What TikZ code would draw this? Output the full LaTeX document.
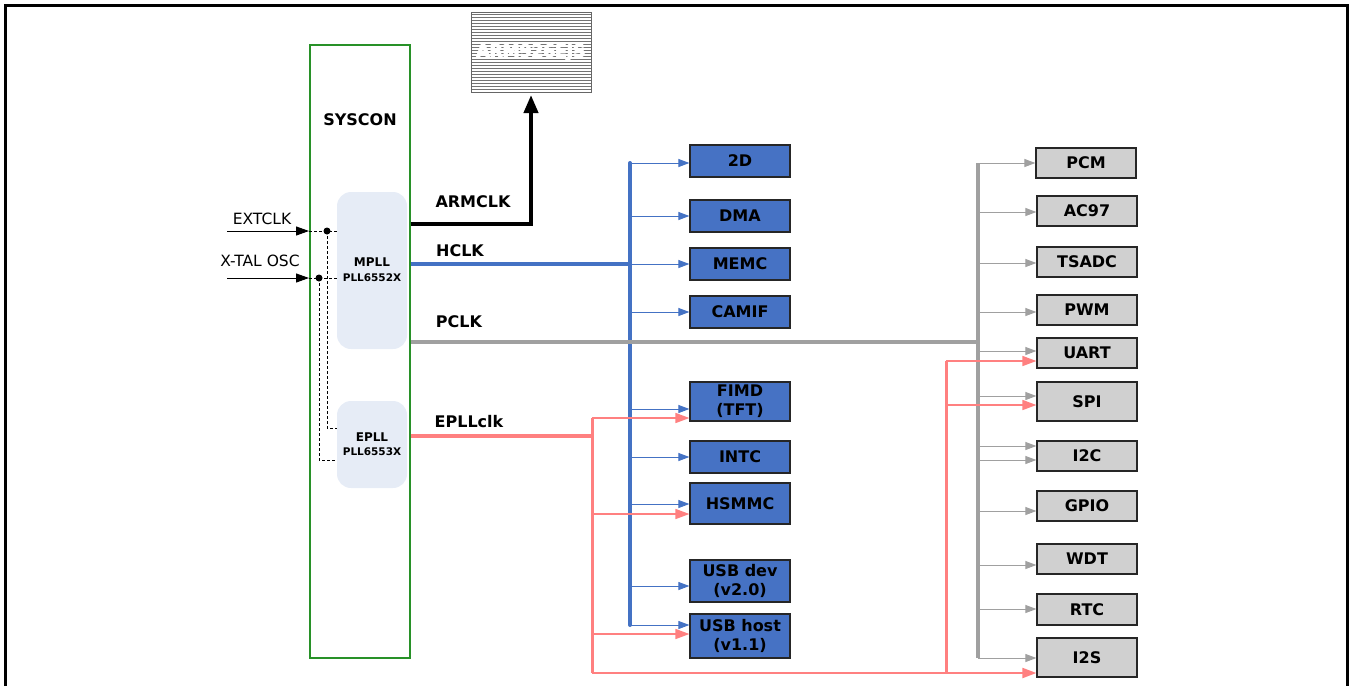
\documentclass[tikz,border=0pt]{standalone}
\usepackage{fontspec}
\setmainfont{DejaVu Sans}
\usetikzlibrary{arrows.meta,calc}
\definecolor{bfill}{RGB}{70,114,196}
\definecolor{bline}{RGB}{68,114,196}
\definecolor{gfill}{RGB}{208,208,208}
\definecolor{gline}{RGB}{160,160,160}
\definecolor{rline}{RGB}{255,128,128}
\definecolor{pllfill}{RGB}{230,236,246}
\definecolor{sysgreen}{RGB}{40,145,40}
\begin{document}
\begin{tikzpicture}[x=1pt,y=-1pt,
  bx/.style={draw=black!85, line width=1.2pt, minimum width=100pt, inner sep=0pt,
    font=\fontsize{16}{19}\selectfont\bfseries, align=center},
  bluebox/.style={bx, fill=bfill},
  graybox/.style={bx, fill=gfill},
  pllbox/.style={fill=pllfill, rounded corners=14pt, minimum width=70pt, inner sep=0pt},
  lbl/.style={font=\fontsize{16}{19}\selectfont\bfseries, inner sep=0pt},
  inlbl/.style={font=\fontsize{15.5}{18}\selectfont, inner sep=0pt},
  plltxt/.style={font=\fontsize{12}{14}\selectfont\bfseries, inner sep=0pt},
  pllsub/.style={font=\fontsize{10.5}{12}\selectfont\bfseries, inner sep=0pt},
  armtxt/.style={text=white, font=\fontsize{17}{20}\selectfont\bfseries, inner sep=0pt},
  barr/.style={draw=bline, line width=1pt, -{Triangle[length=11pt,width=8pt]}},
  garr/.style={draw=gline, line width=1pt, -{Triangle[length=11pt,width=8pt]}},
  rarr/.style={draw=rline, line width=1.5pt, -{Triangle[length=14pt,width=10pt]}},
  dsh/.style={draw=black, line width=0.8pt, dash pattern=on 3pt off 2pt},
  dotnode/.style={circle, fill=black, inner sep=0pt, minimum size=7pt},
]
\useasboundingbox (0,0) rectangle (1354,686);
% outer frame
\draw[line width=3pt] (5,686) -- (5,5) -- (1347,5) -- (1347,686);

% ARM core
\node[draw=black!60, line width=1pt, fill=white, minimum width=120pt, minimum height=80pt,
  inner sep=0pt,
  path picture={\foreach \k in {0,...,26}
    \draw[black!55, line width=1pt]
      ($(path picture bounding box.north west)+(0,1.5+3*\k)$) -- ++(130,0);}]
  (arm) at (531,52.5) {};
\foreach \dx/\dy in {-0.6/0,0.6/0,0/-0.5,0/0.5,0/0}
  \node[armtxt] at ($(arm.center)+(\dx,\dy)$) {ARM926EJS};

% SYSCON
\node[draw=sysgreen, line width=1.2pt, minimum width=100pt, minimum height=613pt, inner sep=0pt]
  (syscon) at (360,351.5) {};
\node[lbl] (sysl) at (360,120) {SYSCON};

% PLLs
\node[pllbox, minimum height=157pt] (mpll) at (372,270.5) {};
\node[plltxt] (mpllt) at (372,262) {MPLL};
\node[pllsub] (mplls) at (372,278) {PLL6552X};
\node[pllbox, minimum height=87pt] (epll) at (372,444.5) {};
\node[plltxt] (epllt) at (372,437) {EPLL};
\node[pllsub] (eplls) at (372,452) {PLL6553X};

% inputs
\coordinate (extin) at (227,231);
\coordinate (xtalin) at (227,278);
\coordinate (extend) at (309,231);
\coordinate (xtalend) at (309,278);
\node[inlbl] (extl) at (262,219) {EXTCLK};
\node[inlbl] (xtall) at (260,261) {X-TAL OSC};
\draw[line width=1pt, -{Triangle[length=13pt,width=9pt]}] (extin) -- (extend);
\draw[line width=1pt, -{Triangle[length=13pt,width=9pt]}] (xtalin) -- (xtalend);
\node[dotnode] (d1) at (327,231) {};
\node[dotnode] (d2) at (319,278) {};
\draw[dsh] (extend) -- (mpll.west |- extend);
\draw[dsh] (xtalend) -- (mpll.west |- xtalend);
\draw[dsh] (d1.center) -- (327,428) -- (epll.west |- 0,428);
\draw[dsh] (d2.center) -- (319,460) -- (epll.west |- 0,460);

% peripheral boxes (AHB)
\node[bluebox, minimum height=32pt] (b2d) at (740,161) {2D};
\node[bluebox, minimum height=32pt] (bdma) at (740,216) {DMA};
\node[bluebox, minimum height=32pt] (bmemc) at (740,264) {MEMC};
\node[bluebox, minimum height=32pt] (bcamif) at (740,312) {CAMIF};
\node[bluebox, minimum height=39pt] (bfimd) at (740,401.5) {FIMD\\(TFT)};
\node[bluebox, minimum height=32pt] (bintc) at (740,457) {INTC};
\node[bluebox, minimum height=41pt] (bhsmmc) at (740,503.5) {HSMMC};
\node[bluebox, minimum height=42pt] (busbd) at (740,581) {USB dev\\(v2.0)};
\node[bluebox, minimum height=44pt] (busbh) at (740,636) {USB host\\(v1.1)};

% peripheral boxes (APB)
\node[graybox, minimum height=30pt] (gpcm) at (1086,163) {PCM};
\node[graybox, minimum height=30pt] (gac97) at (1087,211) {AC97};
\node[graybox, minimum height=30pt] (gtsadc) at (1087,262) {TSADC};
\node[graybox, minimum height=30pt] (gpwm) at (1087,310) {PWM};
\node[graybox, minimum height=30pt] (guart) at (1087,353) {UART};
\node[graybox, minimum height=39pt] (gspi) at (1087,401.5) {SPI};
\node[graybox, minimum height=30pt] (gi2c) at (1087,456) {I2C};
\node[graybox, minimum height=30pt] (ggpio) at (1087,506) {GPIO};
\node[graybox, minimum height=30pt] (gwdt) at (1087,559) {WDT};
\node[graybox, minimum height=31pt] (grtc) at (1087,609.5) {RTC};
\node[graybox, minimum height=39pt] (gi2s) at (1087,657.5) {I2S};

% bus coordinates
\coordinate (hbtop) at (630,163);
\coordinate (hbbot) at (630,625);
\coordinate (pbtop) at (978,163);
\coordinate (pbbot) at (978,658);
\coordinate (rbtop) at (592,418);
\coordinate (rbbot) at (592,673);
\coordinate (r2top) at (946,361);
\coordinate (r2bot) at (946,673);

% ARMCLK
\node[lbl] (armclkl) at (473,202) {ARMCLK};
\draw[line width=4pt, -{Triangle[length=18pt,width=14pt]}]
  (syscon.east |- 0,224) -| ([yshift=-2pt]arm.south);

% HCLK
\node[lbl] (hclkl) at (460,251) {HCLK};
\draw[bline, line width=4pt] (syscon.east |- 0,264) -- (hbtop |- 0,264);
\draw[bline, line width=4pt, line cap=round] (hbtop) -- (hbbot);
\draw[barr] (hbtop) -- (b2d.west |- hbtop);
\draw[barr] (hbtop |- bdma.west) -- (bdma.west);
\draw[barr] (hbtop |- bmemc.west) -- (bmemc.west);
\draw[barr] (hbtop |- bcamif.west) -- (bcamif.west);
\draw[barr] (hbtop |- 0,409) -- (bfimd.west |- 0,409);
\draw[barr] (hbtop |- bintc.west) -- (bintc.west);
\draw[barr] (hbtop |- 0,504) -- (bhsmmc.west |- 0,504);
\draw[barr] (hbtop |- 0,586) -- (busbd.west |- 0,586);
\draw[barr] (hbbot) -- (busbh.west |- hbbot);

% PCLK
\node[lbl] (pclkl) at (459,322) {PCLK};
\draw[gline, line width=4pt] (syscon.east |- 0,342) -- (pbtop |- 0,342);
\draw[gline, line width=4pt] (pbtop) -- (pbbot);
\draw[garr] (pbtop) -- (gpcm.west |- pbtop);
\draw[garr] (pbtop |- 0,212) -- (gac97.west |- 0,212);
\draw[garr] (pbtop |- 0,263) -- (gtsadc.west |- 0,263);
\draw[garr] (pbtop |- 0,312) -- (gpwm.west |- 0,312);
\draw[garr] (pbtop |- 0,351) -- (guart.west |- 0,351);
\draw[garr] (pbtop |- 0,396) -- (gspi.west |- 0,396);
\draw[garr] (pbtop |- 0,446) -- (gi2c.west |- 0,446);
\draw[garr] (pbtop |- 0,460) -- (gi2c.west |- 0,460);
\draw[garr] (pbtop |- 0,511) -- (ggpio.west |- 0,511);
\draw[garr] (pbtop |- 0,565) -- (gwdt.west |- 0,565);
\draw[garr] (pbtop |- 0,609) -- (grtc.west |- 0,609);
\draw[garr] (pbbot) -- (gi2s.west |- pbbot);

% EPLLclk
\node[lbl] (epllclkl) at (469,422) {EPLLclk};
\draw[rline, line width=4pt] (syscon.east |- 0,436) -- (rbtop |- 0,436);
\draw[rline, line width=3pt] (rbtop) -- (rbbot);
\draw[rarr] (rbtop) -- (bfimd.west |- rbtop);
\draw[rarr] (rbtop |- 0,514) -- (bhsmmc.west |- 0,514);
\draw[rarr] (rbtop |- 0,634) -- (busbh.west |- 0,634);
\draw[rline, line width=2pt, -{Triangle[length=14pt,width=10pt]}] (rbbot) -- (gi2s.west |- rbbot);
\draw[rline, line width=3pt] (r2bot) -- (r2top);
\draw[rarr] (r2top) -- (guart.west |- r2top);
\draw[rarr] (r2top |- 0,405) -- (gspi.west |- 0,405);
\end{tikzpicture}
\end{document}
